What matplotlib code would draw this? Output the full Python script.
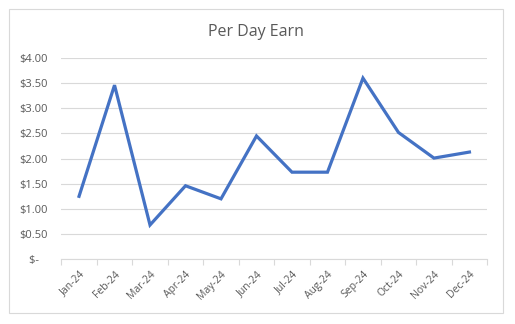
import matplotlib.pyplot as plt
from matplotlib.patches import Rectangle
from matplotlib.ticker import FuncFormatter, FixedLocator

# Data
months = ['Jan-24', 'Feb-24', 'Mar-24', 'Apr-24', 'May-24', 'Jun-24',
          'Jul-24', 'Aug-24', 'Sep-24', 'Oct-24', 'Nov-24', 'Dec-24']
per_day = [1.25, 3.46, 0.68, 1.46, 1.20, 2.45, 1.73, 1.73, 3.60, 2.52, 2.01, 2.13]

plt.rcParams['font.family'] = ['Open Sans', 'DejaVu Sans']
text_col = '#595959'
grid_col = '#D9D9D9'

fig = plt.figure(figsize=(5.15, 3.24), dpi=100)
ax = fig.add_axes([0.119, 0.200, 0.827, 0.621])

x = list(range(len(months)))
ax.plot(x, per_day, color='#4472C4', linewidth=2.3, solid_joinstyle='miter')

ax.set_xlim(-0.5, len(months) - 0.5)
ax.set_ylim(0, 4)
ax.set_yticks([i * 0.5 for i in range(9)])
# accounting style: zero shown as "$-" with trailing padding
ax.yaxis.set_major_formatter(FuncFormatter(lambda v, p: '$-   ' if v == 0 else f'${v:.2f}'))
ax.grid(axis='y', color=grid_col, linewidth=0.8)
ax.set_axisbelow(True)

ax.set_xticks(x)
ax.set_xticklabels(months, rotation=45, ha='right', rotation_mode='anchor')
ax.xaxis.set_minor_locator(FixedLocator([i - 0.5 for i in range(len(months) + 1)]))
ax.tick_params(axis='x', which='major', length=0, pad=7, labelsize=7.5, labelcolor=text_col)
ax.tick_params(axis='x', which='minor', length=4, color=grid_col, width=0.8)
ax.tick_params(axis='y', length=0, pad=10, labelsize=8, labelcolor=text_col)

for side in ['top', 'right', 'left']:
    ax.spines[side].set_visible(False)
ax.spines['bottom'].set_color(grid_col)
ax.spines['bottom'].set_linewidth(0.8)

fig.text(0.497, 0.90, 'Per Day Earn', ha='center', va='center', fontsize=11.5, color=text_col)

fig.patches.append(Rectangle((0.018, 0.034), 0.959, 0.938, transform=fig.transFigure,
                             fill=False, edgecolor=grid_col, linewidth=0.8))

fig.savefig('out.png', dpi=100)
